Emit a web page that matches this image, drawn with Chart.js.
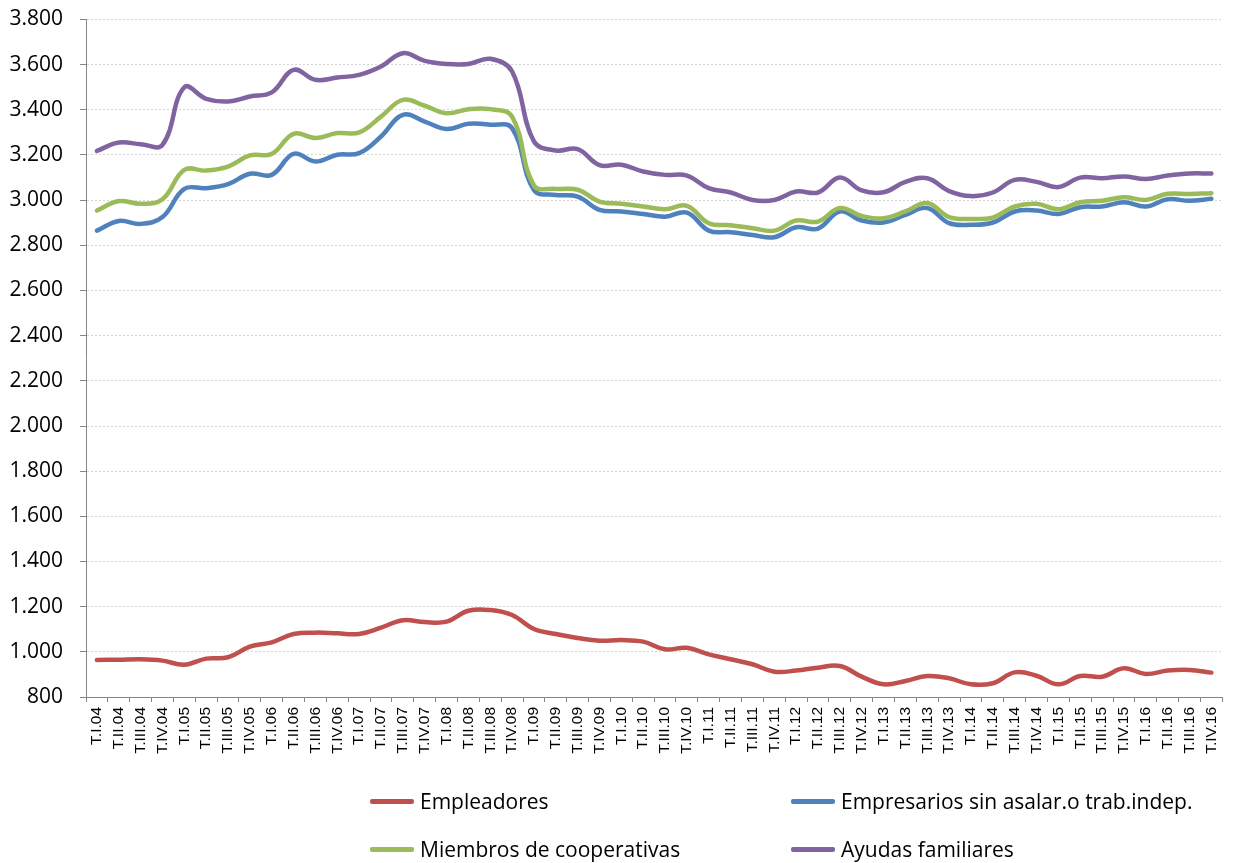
<!DOCTYPE html>
<html lang="es">
<head>
  <meta charset="UTF-8">
  <title>Empleadores, empresarios, cooperativas y ayudas familiares</title>
  <script src="https://cdn.jsdelivr.net/npm/chart.js"></script>
  <style>
    body { margin: 0; background: #fff; }
    #wrap { position: relative; width: 1235px; height: 863px; }
    #legend { position: absolute; left: 0; top: 0; width: 1235px; height: 863px; pointer-events: none;
              font-family: "Open Sans", sans-serif; font-size: 21px; color: #000; }
    .item { position: absolute; display: flex; align-items: center; height: 30px; white-space: nowrap; }
    .swatch { width: 44px; height: 5px; border-radius: 2px; margin-right: 6px; }
  </style>
</head>
<body>
  <div id="wrap">
    <canvas id="myChart" width="1235" height="863"></canvas>
    <div id="legend"></div>
  </div>

  <script>
    // Quarters T.I.04 .. T.IV.16
    const quarters = ['I', 'II', 'III', 'IV'];
    const years = ['04', '05', '06', '07', '08', '09', '10', '11', '12', '13', '14', '15', '16'];
    const labels = [];
    years.forEach(y => quarters.forEach(q => labels.push('T.' + q + '.' + y)));

    const seriesNames = ['Empleadores', 'Empresarios sin asalar.o trab.indep.', 'Miembros de cooperativas', 'Ayudas familiares'];
    const seriesColors = ['#C0504D', '#4F81BD', '#9BBB59', '#8064A2'];

    const empleadores = [
      964, 965, 967, 961, 943, 970, 976, 1023, 1042, 1079, 1085, 1082, 1079,
      1107, 1140, 1132, 1134, 1182, 1185, 1163, 1101, 1079, 1061, 1049, 1052, 1045,
      1011, 1018, 989, 967, 945, 912, 917, 930, 937, 890, 856, 871, 893,
      883, 856, 861, 909, 894, 856, 893, 890, 927, 902, 917, 920, 908
    ];
    const empresarios = [
      2865, 2908, 2895, 2925, 3050, 3053, 3071, 3117, 3112, 3205, 3171, 3201, 3208,
      3282, 3378, 3348, 3315, 3338, 3334, 3319, 3045, 3023, 3016, 2957, 2950, 2939,
      2927, 2945, 2865, 2858, 2846, 2836, 2880, 2874, 2950, 2910, 2901, 2935, 2965,
      2898, 2891, 2901, 2950, 2954, 2939, 2969, 2972, 2991, 2972, 3004, 2997, 3006
    ];
    const cooperativas = [
      2954, 2996, 2984, 3004, 3134, 3131, 3149, 3198, 3205, 3294, 3275, 3297, 3300,
      3370, 3444, 3418, 3385, 3403, 3403, 3370, 3065, 3050, 3046, 2994, 2984, 2972,
      2960, 2975, 2898, 2889, 2876, 2865, 2910, 2905, 2965, 2930, 2920, 2950, 2987,
      2925, 2917, 2923, 2972, 2984, 2960, 2991, 2997, 3013, 3001, 3028, 3027, 3031
    ];
    const ayudas = [
      3218, 3255, 3248, 3245, 3500, 3449, 3437, 3459, 3477, 3577, 3533, 3543, 3555,
      3592, 3651, 3617, 3603, 3603, 3626, 3570, 3260, 3220, 3226, 3155, 3157, 3127,
      3112, 3109, 3053, 3034, 3001, 3001, 3038, 3034, 3100, 3043, 3035, 3081, 3097,
      3040, 3018, 3034, 3090, 3081, 3058, 3100, 3097, 3105, 3094, 3109, 3118, 3118
    ];
    const seriesData = [empleadores, empresarios, cooperativas, ayudas];

    // y axis: 800 .. 3.800 by 200
    const yMin = 800, yMax = 3800, yStep = 200;

    const fmt = v => String(v).replace(/\B(?=(\d{3})+(?!\d))/g, '.');

    const datasets = seriesNames.map((name, i) => ({
      label: name,
      data: seriesData[i],
      borderColor: seriesColors[i],
      backgroundColor: seriesColors[i],
      borderWidth: 4.5,
      pointRadius: 0,
      tension: 0.4,
      fill: false,
      borderCapStyle: 'round',
      borderJoinStyle: 'round',
      order: seriesNames.length - i
    }));

    const ctx = document.getElementById('myChart').getContext('2d');
    const myChart = new Chart(ctx, {
      type: 'line',
      data: { labels: labels, datasets: datasets },
      options: {
        responsive: false,
        animation: false,
        layout: { padding: { top: 19.5, right: 5, bottom: 0, left: 0 } },
        plugins: {
          legend: { display: false },
          tooltip: { enabled: false }
        },
        scales: {
          x: {
            offset: true,
            grid: { offset: true, drawOnChartArea: false, drawTicks: true, tickLength: 5, tickColor: '#868686' },
            border: { color: '#868686', width: 1 },
            ticks: {
              autoSkip: false, maxRotation: 90, minRotation: 90, padding: 5,
              color: '#000', font: { family: 'Liberation Sans', size: 15.5 }
            },
            afterFit: scale => { scale.height = 166; }
          },
          y: {
            min: yMin, max: yMax,
            grid: { color: '#d6d6d6', tickColor: '#868686', tickLength: 6 },
            border: { color: '#868686', width: 1, dash: [2, 2] },
            ticks: {
              stepSize: yStep, padding: 17, color: '#000',
              font: { family: 'Open Sans', size: 21 },
              callback: v => fmt(v)
            },
            // fixed axis width; drop the label padding so the top edge follows layout.padding
            afterFit: scale => {
              scale.width = 86;
              scale.paddingTop = 0;
              scale.paddingBottom = 0;
            }
          }
        }
      }
    });

    // legend in two columns under the chart
    const legendPos = [
      { x: 370, y: 786 }, { x: 791, y: 786 },
      { x: 370, y: 834 }, { x: 791, y: 834 }
    ];
    const legend = document.getElementById('legend');
    myChart.data.datasets.forEach((ds, i) => {
      const item = document.createElement('div');
      item.className = 'item';
      item.style.left = legendPos[i].x + 'px';
      item.style.top = legendPos[i].y + 'px';
      const sw = document.createElement('span');
      sw.className = 'swatch';
      sw.style.background = ds.borderColor;
      const txt = document.createElement('span');
      txt.textContent = ds.label;
      item.appendChild(sw);
      item.appendChild(txt);
      legend.appendChild(item);
    });
  </script>
</body>
</html>
